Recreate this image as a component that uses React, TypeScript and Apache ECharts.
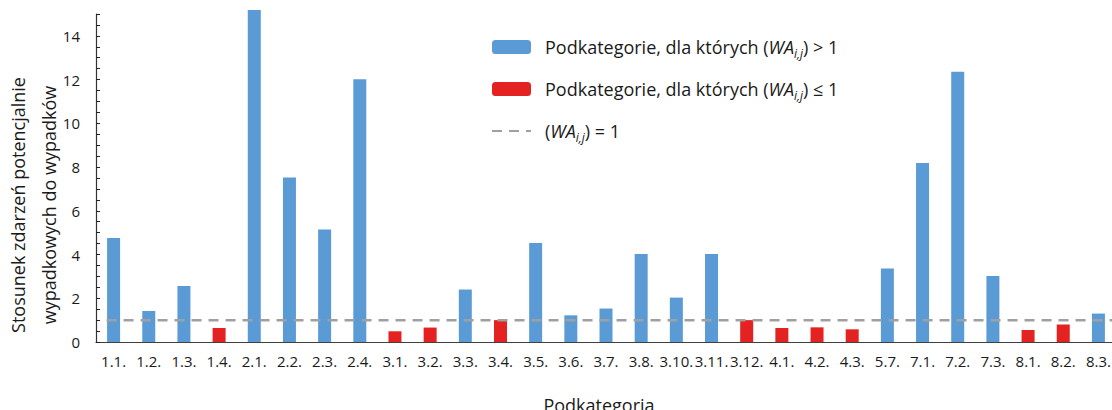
import React, { useEffect, useRef } from "react";
import * as echarts from "echarts";

const categories = [
  "1.1.", "1.2.", "1.3.", "1.4.", "2.1.", "2.2.", "2.3.", "2.4.",
  "3.1.", "3.2.", "3.3.", "3.4.", "3.5.", "3.6.", "3.7.", "3.8.",
  "3.10.", "3.11.", "3.12.", "4.1.", "4.2.", "4.3.", "5.7.", "7.1.",
  "7.2.", "7.3.", "8.1.", "8.2.", "8.3.",
];

const values = [
  4.76, 1.42, 2.56, 0.64, 15.18, 7.52, 5.14, 12.02,
  0.49, 0.66, 2.40, 1.0, 4.53, 1.22, 1.53, 4.03,
  2.03, 4.03, 1.0, 0.64, 0.67, 0.58, 3.36, 8.19,
  12.36, 3.02, 0.55, 0.80, 1.30,
];

const threshold = 1;
const lineStart = 0.3;
const lineEnd = categories.length;

const yTicks = [0, 2, 4, 6, 8, 10, 12, 14];

const FONT = "'Open Sans', 'Noto Sans', sans-serif";
const TEXT = "#1a1a1a";
const BLUE = "#5B9BD5";
const RED = "#E42222";
const GREY = "#A0A0A0";

const legendNames: Record<string, string> = {
  gt: "{n|Podkategorie, dla których (}{i|WA}{s|i,j}{n|) > 1}",
  le: "{n|Podkategorie, dla których (}{i|WA}{s|i,j}{n|) ≤ 1}",
  eq: "{n|(}{i|WA}{s|i,j}{n|) = 1}",
};

export default function App() {
  const ref = useRef<HTMLDivElement>(null);
  useEffect(() => {
    if (!ref.current) return;
    const chart = echarts.init(ref.current, null, { renderer: "svg" });
    const above = values.map((v) => (v > threshold ? v : "-"));
    const below = values.map((v) => (v <= threshold ? v : "-"));
    chart.setOption({
      animation: false,
      textStyle: { fontFamily: FONT, color: TEXT },
      grid: {
        left: 96,
        right: -4,
        top: 14,
        bottom: 68,
        containLabel: false,
        outerBoundsMode: "none",
      },
      legend: {
        orient: "vertical",
        left: 486,
        top: 33,
        itemWidth: 39,
        itemHeight: 14,
        itemGap: 21,
        data: [
          { name: "gt" },
          { name: "le" },
          { name: "eq", itemStyle: { color: "rgba(0,0,0,0)", borderWidth: 0 } },
        ],
        formatter: (name: string) => legendNames[name],
        textStyle: {
          padding: [0, 0, 0, 9],
          rich: {
            n: { fontFamily: FONT, fontSize: 18, color: TEXT, lineHeight: 24 },
            i: { fontFamily: FONT, fontSize: 18, color: TEXT, lineHeight: 24, fontStyle: "italic" },
            s: {
              fontFamily: FONT,
              fontSize: 12,
              color: TEXT,
              lineHeight: 12,
              fontStyle: "italic",
              verticalAlign: "bottom",
            },
          },
        },
      },
      xAxis: [
        {
          type: "category",
          data: categories,
          boundaryGap: true,
          name: "Podkategoria",
          nameLocation: "middle",
          nameGap: 54,
          nameMoveOverlap: false,
          nameTextStyle: { fontFamily: FONT, fontSize: 18, color: TEXT, padding: [0, 14, 0, 0] },
          axisLine: { lineStyle: { color: "#404040", width: 1.2 } },
          axisTick: { inside: true, length: 5, lineStyle: { color: "#222" } },
          axisLabel: { interval: 0, fontFamily: FONT, fontSize: 15, color: TEXT, margin: 11 },
        },
        {
          type: "value",
          min: 0,
          max: categories.length,
          show: false,
        },
      ],
      yAxis: {
        type: "value",
        min: 0,
        max: 15,
        interval: 0.5,
        splitLine: { show: false },
        axisLine: { show: true, lineStyle: { color: "#333", width: 1.2 } },
        axisTick: { show: true, inside: true, length: 4, lineStyle: { color: "#222" } },
        axisLabel: {
          fontFamily: FONT,
          fontSize: 15,
          color: TEXT,
          margin: 16,
          formatter: (v: number) => (yTicks.includes(v) ? String(v) : ""),
        },
      },
      series: [
        {
          name: "gt",
          type: "bar",
          data: above,
          barWidth: 13,
          barGap: "-100%",
          clip: false,
          itemStyle: { color: BLUE },
        },
        {
          name: "le",
          type: "bar",
          data: below,
          barWidth: 13,
          barGap: "-100%",
          clip: false,
          itemStyle: { color: RED },
        },
        {
          name: "eq",
          type: "line",
          xAxisIndex: 1,
          data: [
            [lineStart, threshold],
            [lineEnd, threshold],
          ],
          symbol: "none",
          z: 5,
          lineStyle: { color: GREY, width: 2.5, type: [10, 7] },
          itemStyle: { color: GREY },
        },
      ],
      graphic: [
        {
          type: "text",
          x: 33,
          y: 205,
          rotation: Math.PI / 2,
          style: {
            text: "Stosunek zdarzeń potencjalnie\nwypadkowych do wypadków",
            font: `18px ${FONT}`,
            fill: TEXT,
            align: "center",
            verticalAlign: "middle",
            lineHeight: 31,
          },
        },
      ],
    });
    return () => chart.dispose();
  }, []);
  return (
    <div
      ref={ref}
      style={{ position: "absolute", left: 0, top: 0, width: 1112, height: 410, background: "#fff" }}
    />
  );
}
